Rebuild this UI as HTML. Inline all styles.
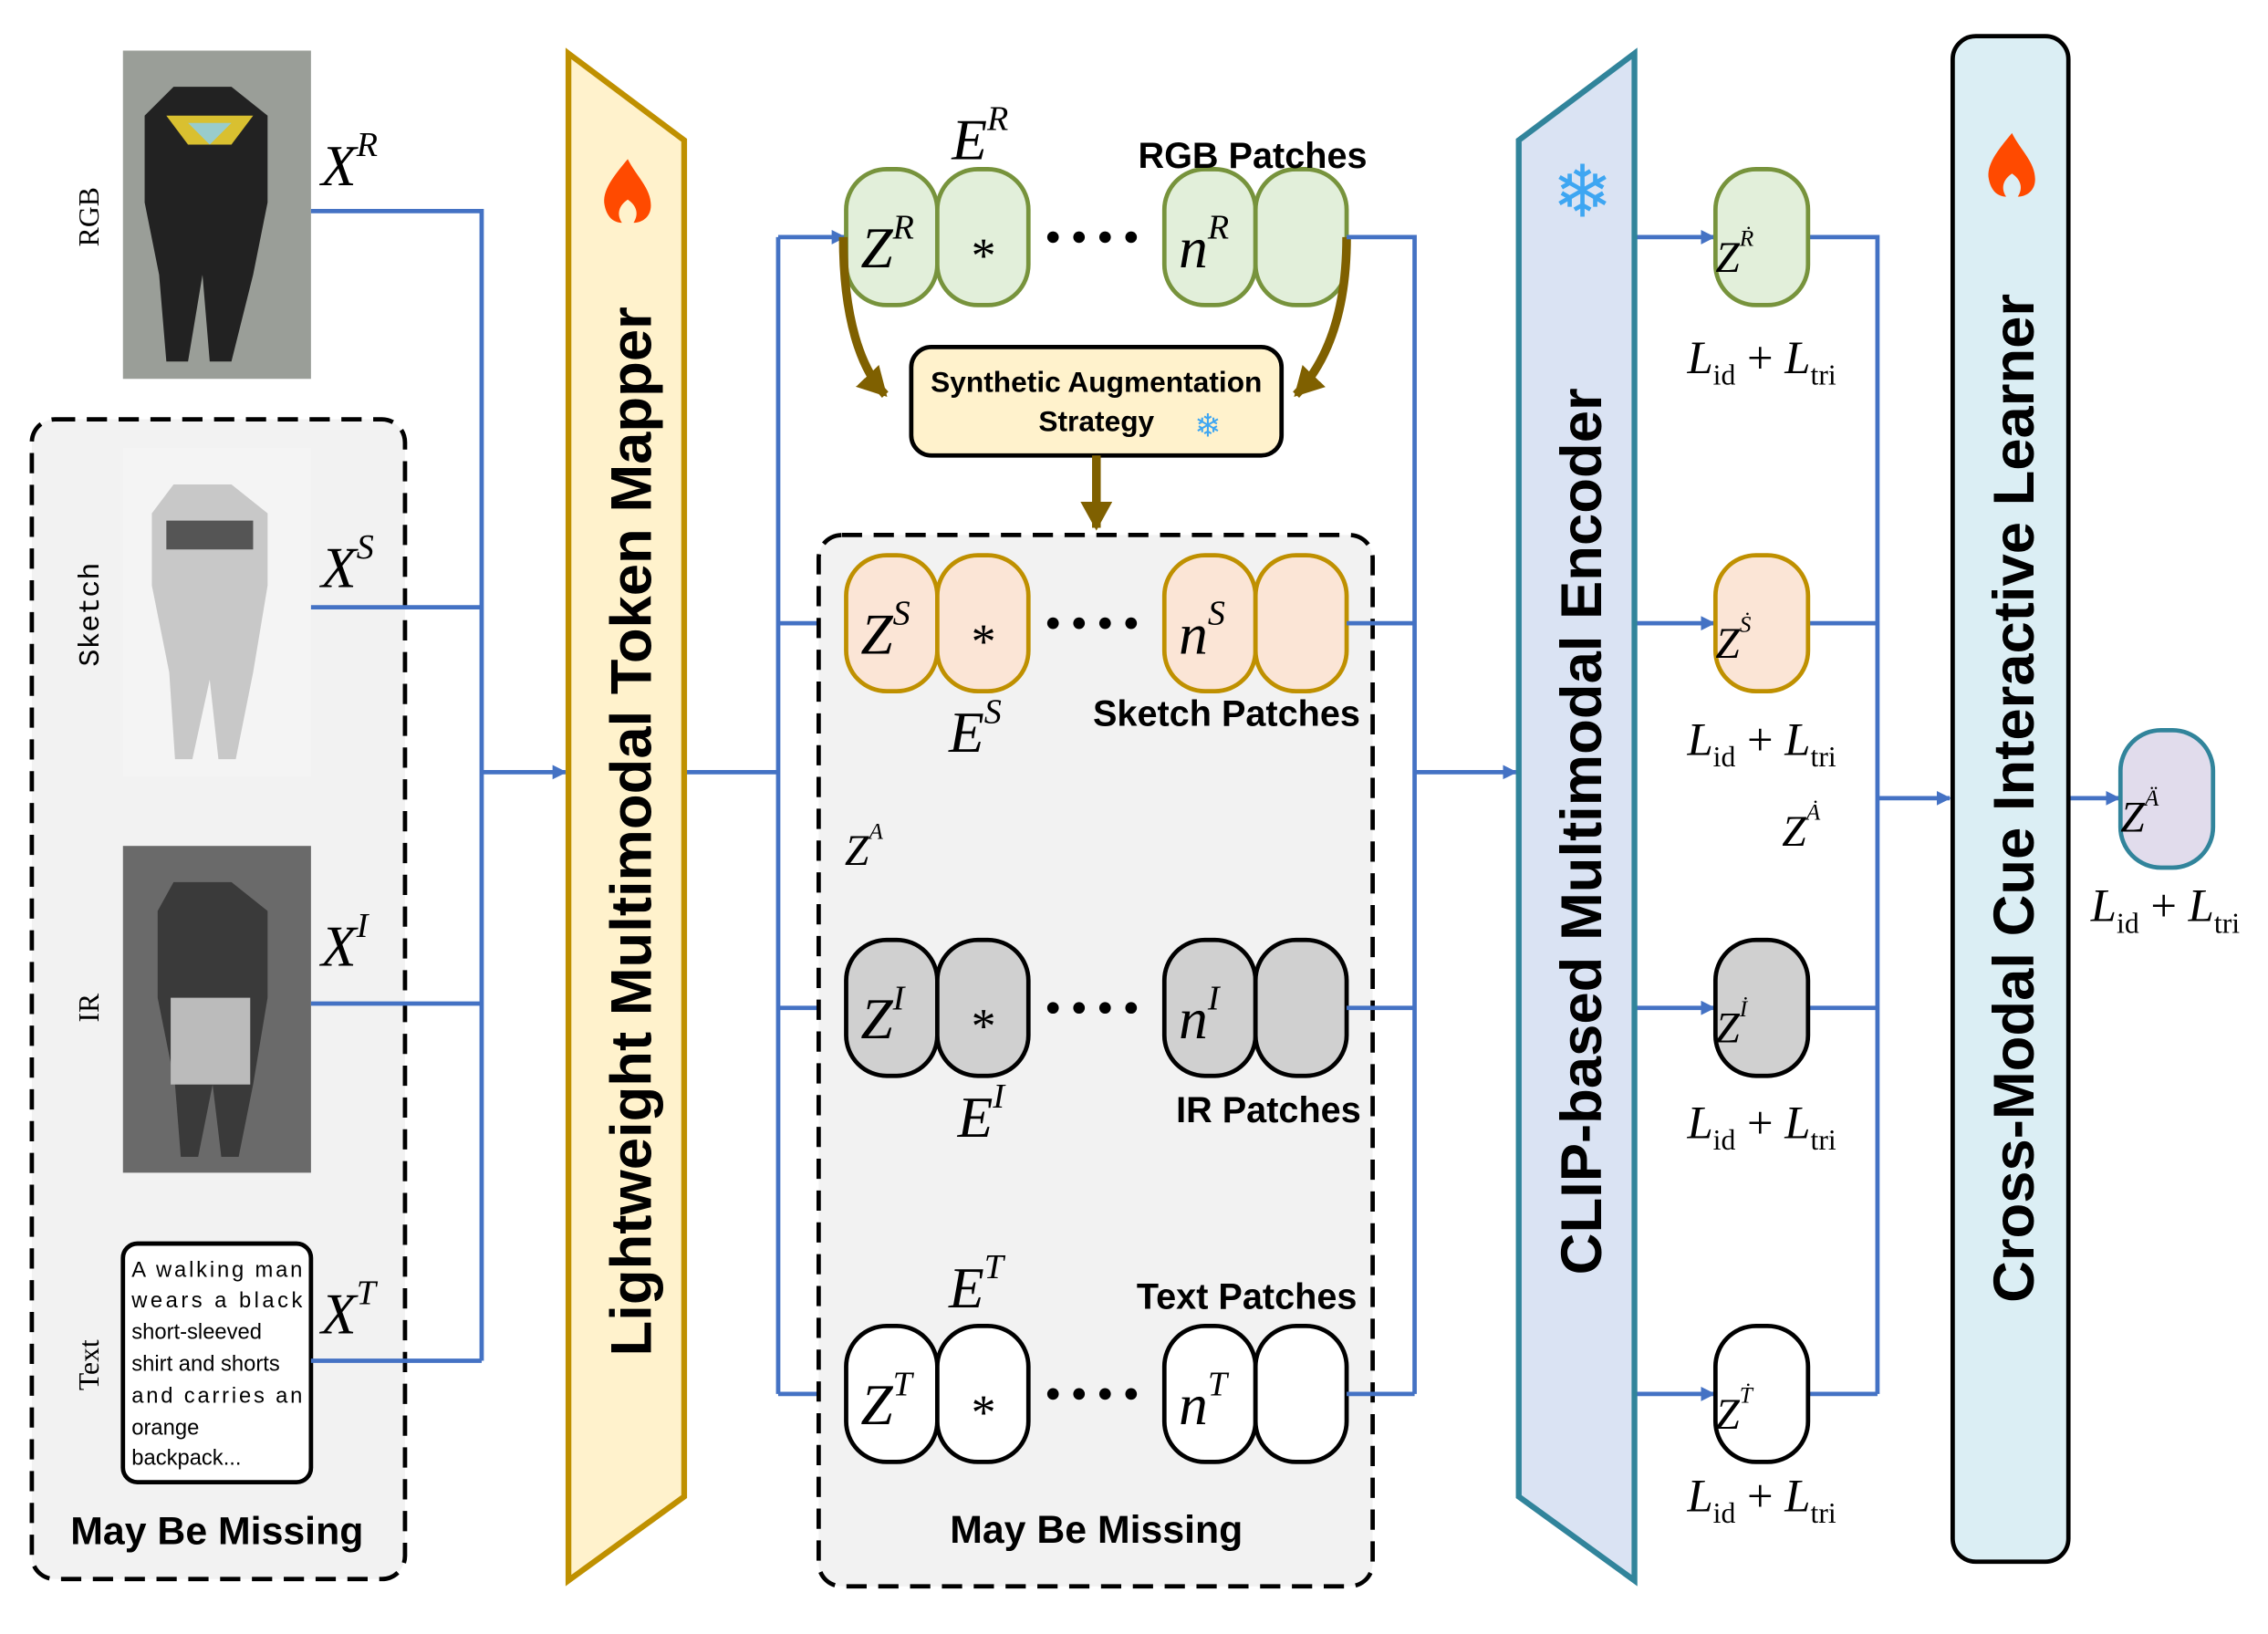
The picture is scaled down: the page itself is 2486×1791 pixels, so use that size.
<!DOCTYPE html>
<html><head><meta charset="utf-8"><style>html,body{margin:0;padding:0;background:#fff}svg{display:block}</style></head>
<body>
<svg width="2486" height="1791" viewBox="0 0 1568 1130" preserveAspectRatio="none" xmlns="http://www.w3.org/2000/svg" font-family="Liberation Sans, sans-serif">
<defs>
<marker id="a" markerWidth="10" markerHeight="10" refX="9" refY="5" orient="auto" markerUnits="userSpaceOnUse"><path d="M0,0 L10,5 L0,10 z" fill="#4472c4"/></marker>
<marker id="b" markerWidth="22" markerHeight="22" refX="18" refY="11" orient="auto" markerUnits="userSpaceOnUse"><path d="M0,0 L20,11 L0,22 z" fill="#7f6000"/></marker>
</defs>
<rect x="22" y="290" width="258" height="802" rx="16" fill="#f2f2f2" stroke="#000" stroke-width="3" stroke-dasharray="14,8"/>
<rect x="85" y="35" width="130" height="227" fill="#9a9e98"/>
<path d="M120,60 h40 l25,20 v60 l-10,50 l-15,60 h-15 l-5,-60 l-10,60 h-15 l-5,-60 l-10,-50 v-60z" fill="#222"/>
<path d="M115,80 l60,0 l-15,20 h-30z" fill="#d9c030"/><path d="M130,85 h30 l-15,15z" fill="#9cc"/>
<rect x="85" y="310" width="130" height="227" fill="#f4f4f4"/>
<path d="M120,335 h40 l25,20 v50 l-10,60 l-12,60 h-12 l-6,-55 l-12,55 h-12 l-4,-60 l-12,-60 v-50z" fill="#c8c8c8"/>
<path d="M115,360 h60 v20 h-60z" fill="#555"/>
<rect x="85" y="585" width="130" height="226" fill="#6a6a6a"/>
<path d="M120,610 h40 l25,20 v60 l-10,60 l-10,50 h-12 l-6,-50 l-10,50 h-12 l-4,-50 l-12,-60 v-60z" fill="#3a3a3a"/>
<rect x="118" y="690" width="55" height="60" fill="#bbb"/>
<rect x="85" y="860" width="130" height="165" rx="10" fill="#fff" stroke="#000" stroke-width="3"/>
<g font-size="15" fill="#000">
<text x="91" y="883" textLength="118" lengthAdjust="spacing">A walking man</text>
<text x="91" y="904" textLength="118" lengthAdjust="spacing">wears a black</text>
<text x="91" y="926">short-sleeved</text>
<text x="91" y="948">shirt and shorts</text>
<text x="91" y="970" textLength="118" lengthAdjust="spacing">and carries an</text>
<text x="91" y="992">orange</text>
<text x="91" y="1013">backpack...</text>
</g>
<g font-family="Liberation Serif, serif" font-size="20">
<text transform="translate(68,150) rotate(-90)" text-anchor="middle">RGB</text>
<text transform="translate(68,425) rotate(-90)" text-anchor="middle" font-family="Liberation Mono, monospace">Sketch</text>
<text transform="translate(68,697) rotate(-90)" text-anchor="middle">IR</text>
<text transform="translate(68,944) rotate(-90)" text-anchor="middle">Text</text>
</g>
<text x="150" y="1068" text-anchor="middle" font-size="27" font-weight="bold">May Be Missing</text>
<g font-family="Liberation Serif, serif" font-style="italic" font-size="40">
<text x="222" y="128">X<tspan font-size="24" dy="-20">R</tspan></text>
<text x="222" y="406">X<tspan font-size="24" dy="-20">S</tspan></text>
<text x="222" y="668">X<tspan font-size="24" dy="-20">I</tspan></text>
<text x="222" y="922">X<tspan font-size="24" dy="-20">T</tspan></text>
</g>
<g stroke="#4472c4" stroke-width="3" fill="none">
<path d="M215,146 H333 V941 M215,420 H333 M215,694 H333 M215,941 H333"/>
<path d="M333,534 H391" marker-end="url(#a)"/>
<path d="M473,534 H538 M538,164 V964"/>
<path d="M538,164 H584" marker-end="url(#a)"/><path d="M538,431 H584" marker-end="url(#a)"/>
<path d="M538,697 H584" marker-end="url(#a)"/><path d="M538,964 H584" marker-end="url(#a)"/>
</g>
<polygon points="393,37 473,97 473,1035 393,1093" fill="#fff2cc" stroke="#bf9000" stroke-width="4"/>
<text transform="translate(450,575) rotate(-90)" text-anchor="middle" font-size="40" font-weight="bold">Lightweight Multimodal Token Mapper</text>
<path d="M434,110 c-10,12 -18,22 -16,32 c2,10 8,12 12,12 c-4,-6 -2,-12 4,-16 c6,4 8,10 4,16 c6,0 12,-4 12,-12 c0,-12 -10,-20 -16,-32z" fill="#ff4a00"/>
<rect x="566" y="370" width="383" height="727" rx="16" fill="#f2f2f2" stroke="#000" stroke-width="3" stroke-dasharray="14,8"/>
<g stroke-width="3">
<g fill="#e2efda" stroke="#77933c"><rect x="585" y="117" width="63" height="94" rx="28"/><rect x="648" y="117" width="63" height="94" rx="28"/><rect x="805" y="117" width="63" height="94" rx="28"/><rect x="868" y="117" width="63" height="94" rx="28"/></g>
<g fill="#fbe5d6" stroke="#bf9000"><rect x="585" y="384" width="63" height="94" rx="28"/><rect x="648" y="384" width="63" height="94" rx="28"/><rect x="805" y="384" width="63" height="94" rx="28"/><rect x="868" y="384" width="63" height="94" rx="28"/></g>
<g fill="#d0d0d0" stroke="#000"><rect x="585" y="650" width="63" height="94" rx="28"/><rect x="648" y="650" width="63" height="94" rx="28"/><rect x="805" y="650" width="63" height="94" rx="28"/><rect x="868" y="650" width="63" height="94" rx="28"/></g>
<g fill="#fff" stroke="#000"><rect x="585" y="917" width="63" height="94" rx="28"/><rect x="648" y="917" width="63" height="94" rx="28"/><rect x="805" y="917" width="63" height="94" rx="28"/><rect x="868" y="917" width="63" height="94" rx="28"/></g>
</g>
<g fill="#000">
<g id="d"><circle cx="728" cy="164" r="4"/><circle cx="746" cy="164" r="4"/><circle cx="764" cy="164" r="4"/><circle cx="782" cy="164" r="4"/></g>
<use href="#d" y="267"/><use href="#d" y="533"/><use href="#d" y="800"/>
</g>
<g font-family="Liberation Serif, serif" font-size="40">
<g font-style="italic">
<text x="595" y="185">Z<tspan font-size="24" dy="-20">R</tspan></text>
<text x="595" y="452">Z<tspan font-size="24" dy="-20">S</tspan></text>
<text x="595" y="718">Z<tspan font-size="24" dy="-20">I</tspan></text>
<text x="595" y="985">Z<tspan font-size="24" dy="-20">T</tspan></text>
<text x="815" y="185">n<tspan font-size="24" dy="-20">R</tspan></text>
<text x="815" y="452">n<tspan font-size="24" dy="-20">S</tspan></text>
<text x="815" y="718">n<tspan font-size="24" dy="-20">I</tspan></text>
<text x="815" y="985">n<tspan font-size="24" dy="-20">T</tspan></text>
<text x="658" y="110">E<tspan font-size="24" dy="-20">R</tspan></text>
<text x="656" y="520">E<tspan font-size="24" dy="-20">S</tspan></text>
<text x="662" y="786">E<tspan font-size="24" dy="-20">I</tspan></text>
<text x="656" y="904">E<tspan font-size="24" dy="-20">T</tspan></text>
<text x="584" y="598" font-size="30">Z<tspan font-size="16" dy="-18">A</tspan></text>
<text x="1232" y="585" font-size="30">Z<tspan font-size="16" dy="-18">Ȧ</tspan></text>
</g>
<text x="680" y="188" text-anchor="middle" font-size="34">*</text>
<text x="680" y="455" text-anchor="middle" font-size="34">*</text>
<text x="680" y="721" text-anchor="middle" font-size="34">*</text>
<text x="680" y="988" text-anchor="middle" font-size="34">*</text>
</g>
<g font-size="25" font-weight="bold">
<text x="866" y="116" text-anchor="middle">RGB Patches</text>
<text x="848" y="502" text-anchor="middle">Sketch Patches</text>
<text x="877" y="776" text-anchor="middle">IR Patches</text>
<text x="862" y="905" text-anchor="middle">Text Patches</text>
<text x="758" y="1067" text-anchor="middle" font-size="27">May Be Missing</text>
</g>
<rect x="630" y="240" width="256" height="75" rx="14" fill="#fff2cc" stroke="#000" stroke-width="3"/>
<text x="758" y="271" text-anchor="middle" font-size="20" font-weight="bold">Synthetic Augmentation</text>
<text x="758" y="298" text-anchor="middle" font-size="20" font-weight="bold">Strategy</text>
<text x="835" y="302" text-anchor="middle" font-size="22" fill="#3ea6f2">❄</text>
<g stroke="#7f6000" stroke-width="6" fill="none">
<path d="M583,164 C583,220 595,255 612,273" marker-end="url(#b)"/>
<path d="M931,164 C931,215 918,250 896,273" marker-end="url(#b)"/>
<path d="M758,315 V365" marker-end="url(#b)"/>
</g>
<g stroke="#4472c4" stroke-width="3" fill="none">
<path d="M931,164 H978 V964 M931,431 H978 M931,697 H978 M931,964 H978"/>
<path d="M978,534 H1048" marker-end="url(#a)"/>
<path d="M1130,164 H1185" marker-end="url(#a)"/><path d="M1130,431 H1185" marker-end="url(#a)"/>
<path d="M1130,697 H1185" marker-end="url(#a)"/><path d="M1130,964 H1185" marker-end="url(#a)"/>
<path d="M1250,164 H1298 V964 M1250,431 H1298 M1250,697 H1298 M1250,964 H1298"/>
<path d="M1298,552 H1348" marker-end="url(#a)"/>
<path d="M1430,552 H1465" marker-end="url(#a)"/>
</g>
<polygon points="1050,97 1130,37 1130,1093 1050,1035" fill="#dae3f3" stroke="#31849b" stroke-width="4"/>
<text transform="translate(1107,575) rotate(-90)" text-anchor="middle" font-size="40" font-weight="bold">CLIP-based Multimodal Encoder</text>
<text x="1094" y="150" text-anchor="middle" font-size="50" fill="#3ea6f2">❄</text>
<g stroke-width="3">
<rect x="1186" y="117" width="64" height="94" rx="28" fill="#e2efda" stroke="#77933c"/>
<rect x="1186" y="384" width="64" height="94" rx="28" fill="#fbe5d6" stroke="#bf9000"/>
<rect x="1186" y="650" width="64" height="94" rx="28" fill="#d0d0d0" stroke="#000"/>
<rect x="1186" y="917" width="64" height="94" rx="28" fill="#fff" stroke="#000"/>
<rect x="1466" y="505" width="64" height="95" rx="28" fill="#e1dcec" stroke="#31849b"/>
</g>
<g font-family="Liberation Serif, serif" font-style="italic" font-size="30">
<text x="1186" y="188">Z<tspan font-size="16" dy="-18">Ṙ</tspan></text>
<text x="1186" y="455">Z<tspan font-size="16" dy="-18">Ṡ</tspan></text>
<text x="1186" y="721">Z<tspan font-size="16" dy="-18">İ</tspan></text>
<text x="1186" y="988">Z<tspan font-size="16" dy="-18">Ṫ</tspan></text>
<text x="1466" y="575">Z<tspan font-size="16" dy="-18">Ä</tspan></text>
</g>
<g font-family="Liberation Serif, serif" font-size="32">
<text x="1218" y="258" text-anchor="middle"><tspan font-style="italic">L</tspan><tspan font-size="20" dy="8">id</tspan><tspan dy="-8"> + </tspan><tspan font-style="italic">L</tspan><tspan font-size="20" dy="8">tri</tspan></text>
<text x="1218" y="522" text-anchor="middle"><tspan font-style="italic">L</tspan><tspan font-size="20" dy="8">id</tspan><tspan dy="-8"> + </tspan><tspan font-style="italic">L</tspan><tspan font-size="20" dy="8">tri</tspan></text>
<text x="1218" y="787" text-anchor="middle"><tspan font-style="italic">L</tspan><tspan font-size="20" dy="8">id</tspan><tspan dy="-8"> + </tspan><tspan font-style="italic">L</tspan><tspan font-size="20" dy="8">tri</tspan></text>
<text x="1218" y="1045" text-anchor="middle"><tspan font-style="italic">L</tspan><tspan font-size="20" dy="8">id</tspan><tspan dy="-8"> + </tspan><tspan font-style="italic">L</tspan><tspan font-size="20" dy="8">tri</tspan></text>
<text x="1497" y="637" text-anchor="middle"><tspan font-style="italic">L</tspan><tspan font-size="20" dy="8">id</tspan><tspan dy="-8"> + </tspan><tspan font-style="italic">L</tspan><tspan font-size="20" dy="8">tri</tspan></text>
</g>
<rect x="1350" y="25" width="80" height="1055" rx="16" fill="#dbeef4" stroke="#000" stroke-width="3"/>
<text transform="translate(1406,552) rotate(-90)" text-anchor="middle" font-size="40" font-weight="bold">Cross-Modal Cue Interactive Learner</text>
<path d="M1391,92 c-10,12 -18,22 -16,32 c2,10 8,12 12,12 c-4,-6 -2,-12 4,-16 c6,4 8,10 4,16 c6,0 12,-4 12,-12 c0,-12 -10,-20 -16,-32z" fill="#ff4a00"/>
</svg>
</body></html>
